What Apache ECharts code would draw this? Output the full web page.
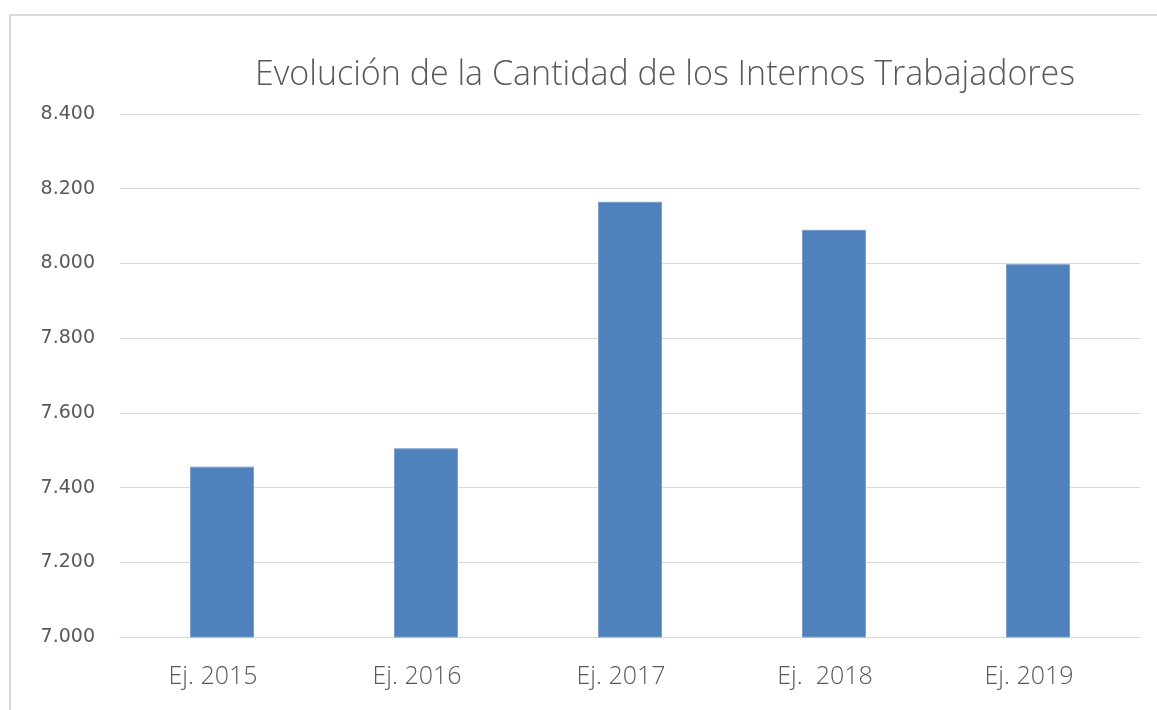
<!DOCTYPE html>
<html>
	<head>
		<meta charset="utf-8">
		<title></title>
		<script src="https://cdn.jsdelivr.net/npm/echarts@6/dist/echarts.min.js"></script>
		<style>
			html, body { margin: 0; padding: 0; background: #fff; }
		</style>
	</head>
	<body>
		<div id="main" style="width: 1157px;height:710px;"></div>
		<script>
			// datos
			var categorias = ['Ej. 2015', 'Ej. 2016', 'Ej. 2017', 'Ej.  2018', 'Ej. 2019'];
			var internos = [7456, 7505, 8165, 8090, 7998];

			var myChart = echarts.init(document.getElementById('main'));
			var gris = '#595959';

			var option = {
				animation: false,
				title: {
					text: 'Evolución de la Cantidad de los Internos Trabajadores',
					left: 660,
					textAlign: 'center',
					top: 53,
					textStyle: {
						color: gris,
						fontFamily: 'Open Sans',
						fontWeight: 300,
						fontSize: 34
					}
				},
				graphic: [{
					type: 'rect',
					shape: { x: 10, y: 15, width: 1300, height: 900 },
					style: { fill: 'none', stroke: '#d9d9d9', lineWidth: 2 },
					silent: true
				}],
				grid: { left: 120, right: 17, top: 114, bottom: 73 },
				xAxis: {
					type: 'category',
					data: categorias,
					axisTick: { show: false },
					axisLine: { lineStyle: { color: '#d9d9d9' } },
					axisLabel: {
						color: gris,
						fontSize: 25,
						margin: 27,
						fontFamily: 'Open Sans',
						fontWeight: 300,
						padding: [0, 18, 0, 0]
					}
				},
				yAxis: {
					type: 'value',
					min: 7000,
					max: 8400,
					interval: 200,
					axisLine: { show: false },
					axisTick: { show: false },
					splitLine: { lineStyle: { color: '#d9d9d9' } },
					axisLabel: {
						color: gris,
						fontSize: 19,
						margin: 25,
						fontFamily: 'DejaVu Sans',
						formatter: function(v) {
							return String(v).replace(/\B(?=(\d{3})+(?!\d))/g, '.');
						}
					}
				},
				series: [{
					type: 'bar',
					data: internos,
					barWidth: 64,
					itemStyle: { color: '#4f81bd', borderColor: '#7da0cc', borderWidth: 1 }
				}]
			};
			myChart.setOption(option);
		</script>
	</body>
</html>
